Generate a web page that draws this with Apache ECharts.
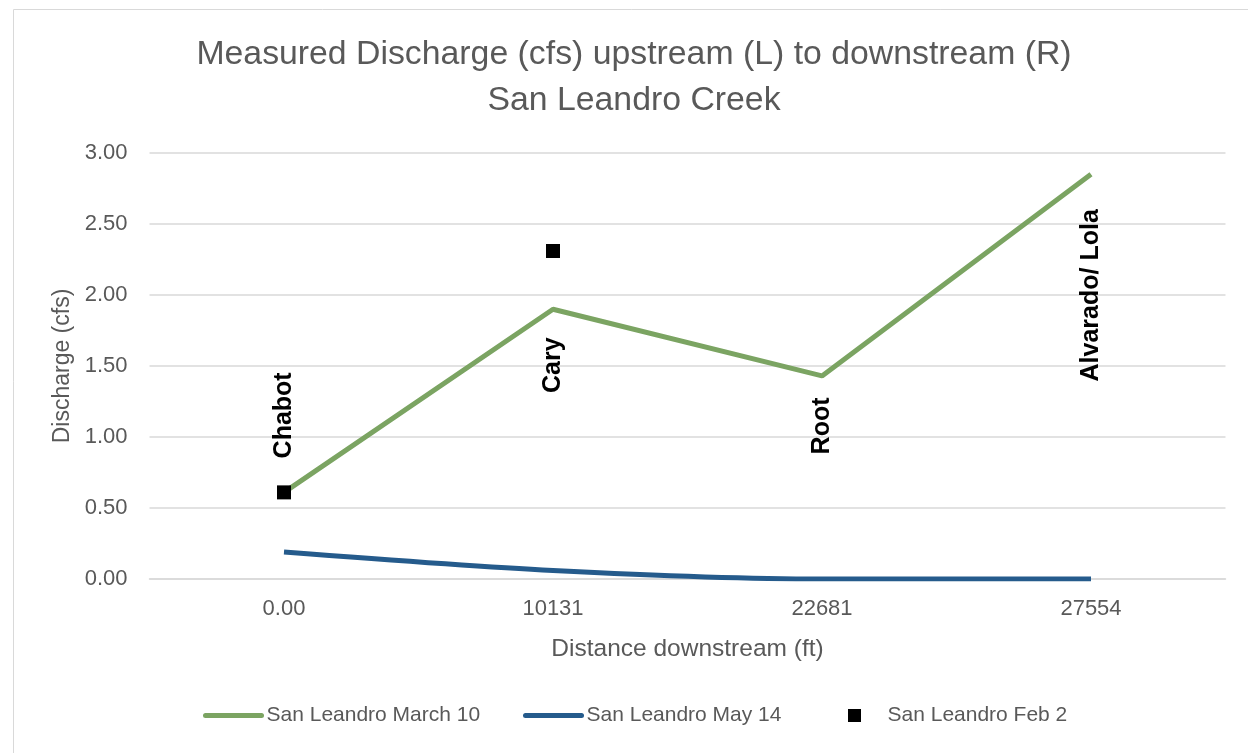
<!doctype html>
<html lang="en">
<head>
    <meta charset="UTF-8">
    <title>Measured Discharge - San Leandro Creek</title>
    <style>
        html, body { margin: 0; padding: 0; background: #fff; }
        #main { width: 1248px; height: 753px; }
    </style>
</head>
<body>
<div id="main"></div>
<script type="text/javascript" src="https://cdn.jsdelivr.net/npm/echarts@6/dist/echarts.min.js"></script>
<script type="text/javascript">
    // distances along the creek, shown as category labels
    var distances = ['0.00', '10131', '22681', '27554'];
    var siteNames = ['Chabot', 'Cary', 'Root', 'Alvarado/ Lola'];
    var yTicks = [0, 0.5, 1, 1.5, 2, 2.5, 3];

    var march10 = [0.61, 1.90, 1.43, 2.85];
    var may14 = [0.19, 0.06, 0.00, 0.00];
    var feb2 = [0.61, 2.31, null, null];

    var font = 'Liberation Sans';
    var grey = '#595959';
    var green = '#7ba462';
    var blue = '#255b8c';

    // site names sit above/below the March 10 points, rotated like the excel labels
    // (offset is in the rotated frame, so a vertical shift goes in the first slot)
    var labelShift = [-77, 56, 50, 121];
    var siteData = march10.map(function (v, i) {
        return {
            value: v,
            label: {
                show: true,
                formatter: siteNames[i],
                position: 'inside',
                rotate: 90,
                offset: [-labelShift[i], 0],
                align: 'center',
                verticalAlign: 'middle',
                color: '#000',
                fontWeight: 'bold',
                fontSize: 25,
                fontFamily: font
            }
        };
    });

    function legendItem(name, left, extra) {
        var item = {name: name};
        if (extra) item.itemStyle = extra;
        return {
            bottom: 22,
            left: left,
            itemWidth: 56,
            itemHeight: 13,
            lineStyle: {width: 5, cap: 'round'},
            textStyle: {color: grey, fontSize: 21, fontFamily: font},
            data: [item]
        };
    }

    var myChart = echarts.init(document.getElementById('main'));
    var option = {
        animation: false,
        graphic: [{
            type: 'rect',
            shape: {x: 13.5, y: 9.5, width: 1300, height: 800},
            style: {fill: 'none', stroke: '#d9d9d9', lineWidth: 1},
            silent: true
        }],
        title: {
            text: 'Measured Discharge (cfs) upstream (L) to downstream (R)\nSan Leandro Creek',
            left: 629,
            top: 27,
            textAlign: 'center',
            textStyle: {
                color: grey,
                fontWeight: 'normal',
                fontSize: 33.8,
                lineHeight: 46,
                fontFamily: font
            }
        },
        legend: [
            legendItem('San Leandro March 10', 198, {opacity: 0}),
            legendItem('San Leandro May 14', 518, {opacity: 0}),
            legendItem('San Leandro Feb 2', 843)
        ],
        grid: {left: 149.5, right: 22.5, top: 153, bottom: 174},
        xAxis: {
            type: 'category',
            data: distances,
            name: 'Distance downstream (ft)',
            nameLocation: 'middle',
            nameGap: 58,
            nameTextStyle: {color: grey, fontSize: 24.5, fontFamily: font},
            axisLine: {show: true, lineStyle: {color: '#d9d9d9', width: 1.5}},
            axisTick: {show: false},
            axisLabel: {color: grey, fontSize: 22, margin: 19, fontFamily: font}
        },
        yAxis: {
            type: 'value',
            min: yTicks[0],
            max: yTicks[yTicks.length - 1],
            interval: 0.5,
            name: 'Discharge (cfs)',
            nameLocation: 'middle',
            nameGap: 74,
            nameTextStyle: {color: grey, fontSize: 23, fontFamily: font},
            axisLine: {show: false},
            axisTick: {show: false},
            splitLine: {lineStyle: {color: '#d9d9d9', width: 1.5}},
            axisLabel: {
                color: grey,
                fontSize: 22,
                margin: 22,
                fontFamily: font,
                formatter: function (v) { return v.toFixed(2); }
            }
        },
        series: [
            {
                name: 'San Leandro March 10',
                type: 'line',
                data: march10,
                symbol: 'none',
                lineStyle: {color: green, width: 5},
                itemStyle: {color: green},
                z: 2
            },
            {
                name: 'San Leandro May 14',
                type: 'line',
                data: may14,
                smooth: 0.3,
                symbol: 'none',
                lineStyle: {color: blue, width: 5},
                itemStyle: {color: blue},
                z: 2
            },
            {
                name: 'San Leandro Feb 2',
                type: 'scatter',
                data: feb2,
                symbol: 'path://M0,0H10V10H0Z',
                symbolKeepAspect: true,
                symbolSize: 14,
                itemStyle: {color: '#000', opacity: 1},
                z: 3
            },
            {
                name: 'sites',
                type: 'scatter',
                data: siteData,
                symbolSize: 1,
                itemStyle: {color: 'rgba(0,0,0,0)', opacity: 1},
                silent: true,
                z: 4
            }
        ]
    };
    myChart.setOption(option);
</script>
</body>
</html>
